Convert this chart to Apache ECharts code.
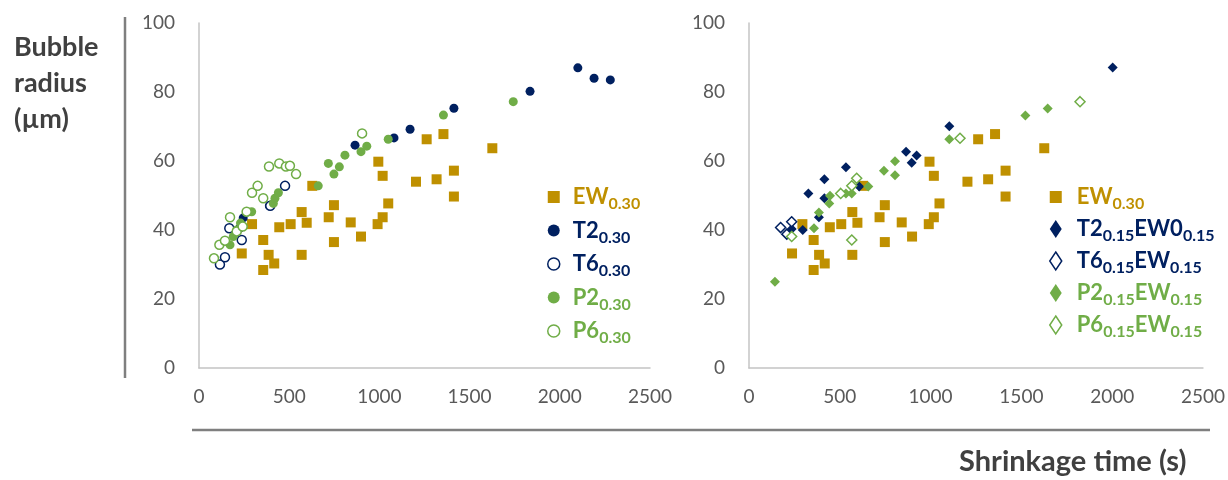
<!DOCTYPE html>
<html>
<head>
<meta charset="utf-8">
<script src="https://cdn.jsdelivr.net/npm/echarts@6/dist/echarts.min.js"></script>
<style>
  html, body { margin: 0; padding: 0; background: #ffffff; }
  #chart { width: 1228px; height: 480px; }
</style>
</head>
<body>
<div id="chart"></div>
<script>
// Bubble radius (µm) against shrinkage time (s), two panels side by side.

const xTicks = [0, 500, 1000, 1500, 2000, 2500];
const yTicks = [0, 20, 40, 60, 80, 100];

// Series names: main text and subscripts separated by '|'
const namesLeft = ['EW|0.30', 'T2|0.30', 'T6|0.30', 'P2|0.30', 'P6|0.30'];
const namesRight = ['EW|0.30', 'T2|0.15|EW0|0.15', 'T6|0.15|EW|0.15', 'P2|0.15|EW|0.15', 'P6|0.15|EW|0.15'];

// [shrinkage time s, bubble radius µm]
const ew030 = [
  [237, 33.2], [294, 41.7], [356, 37.1], [356, 28.4], [386, 32.8], [417, 30.3],
  [445, 40.8], [508, 41.7], [569, 45.2], [569, 32.8], [597, 42.1], [628, 52.8],
  [719, 43.7], [748, 47.2], [748, 36.5], [841, 42.2], [898, 38.1], [990, 41.7],
  [994, 59.8], [1018, 55.7], [1018, 43.7], [1049, 47.7], [1203, 54.0], [1262, 66.3],
  [1317, 54.7], [1355, 67.8], [1413, 57.2], [1413, 49.7], [1626, 63.7]
];
const t2030 = [
  [225, 40.5], [245, 43.5], [390, 47.0], [865, 64.6], [1081, 66.7], [1170, 69.2],
  [1413, 75.3], [1835, 80.2], [2100, 87.0], [2190, 84.0], [2280, 83.5]
];
const t6030 = [
  [116, 30.0], [144, 32.1], [168, 40.5], [237, 37.1], [395, 47.0], [477, 52.8]
];
const p2030 = [
  [172, 35.7], [190, 38.1], [209, 40.0], [230, 42.0], [292, 45.3], [412, 47.7],
  [421, 49.2], [440, 50.8], [661, 52.8], [748, 56.2], [778, 58.3], [717, 59.3],
  [809, 61.7], [898, 62.7], [930, 64.3], [1049, 66.3], [1355, 73.3], [1742, 77.2]
];
const p6030 = [
  [83, 31.8], [113, 35.7], [144, 36.9], [172, 43.7], [209, 39.6], [242, 41.0],
  [264, 45.3], [294, 50.8], [325, 52.8], [356, 49.2], [388, 58.4], [445, 59.3],
  [482, 58.4], [504, 58.6], [538, 56.2], [904, 68.0]
];
const t2ew015 = [
  [235, 40.3], [296, 40.0], [327, 50.6], [385, 43.7], [415, 49.2], [415, 54.7],
  [534, 58.2], [607, 52.6], [865, 62.7], [896, 59.5], [923, 61.6], [1103, 70.1], [2003, 87.1]
];
const t6ew015 = [
  [174, 40.7], [208, 38.8], [235, 42.4]
];
const p2ew015 = [
  [143, 25.0], [358, 40.5], [385, 45.1], [442, 47.7], [446, 49.9], [534, 50.6],
  [566, 50.6], [657, 52.6], [743, 57.2], [804, 55.9], [804, 59.9], [1103, 66.3],
  [1522, 73.2], [1645, 75.2]
];
const p6ew015 = [
  [235, 38.1], [505, 50.6], [566, 52.8], [566, 37.1], [593, 55.0], [1162, 66.6], [1823, 77.2]
];

const GOLD = '#BF9000';
const NAVY = '#002060';
const GREEN = '#70AD47';
const FONT = 'Lato';

function filled(color) { return { color: color, opacity: 1 }; }
function hollow(color) { return { color: '#ffffff', borderColor: color, borderWidth: 1.5, opacity: 1 }; }

function scatter(name, data, panel, symbol, size, itemStyle) {
  return {
    type: 'scatter', name: name, data: data,
    xAxisIndex: panel, yAxisIndex: panel,
    symbol: symbol, symbolSize: size,
    itemStyle: itemStyle,
    emphasis: { disabled: true },
    z: 2
  };
}

function richFor(color, lead) {
  return {
    a: { fontFamily: FONT, fontSize: 22, fontWeight: 'bold', color: color, lineHeight: 30, padding: [0, 0, 0, lead] },
    m: { fontFamily: FONT, fontSize: 22, fontWeight: 'bold', color: color, lineHeight: 30 },
    s: { fontFamily: FONT, fontSize: 16, fontWeight: 'bold', color: color, verticalAlign: 'bottom' }
  };
}

function legendLabel(name) {
  return name.split('|').map(function (p, i) {
    if (i === 0) return '{a|' + p + '}';
    return (i % 2 === 1 ? '{s|' : '{m|') + p + '}';
  }).join('');
}

function legendItems(names, colors, styles, lead, icons) {
  return names.map(function (n, i) {
    const item = { name: n, textStyle: { color: colors[i], rich: richFor(colors[i], lead) } };
    if (styles[i]) item.itemStyle = styles[i];
    if (icons && icons[i]) item.icon = icons[i];
    return item;
  });
}

const axisLabel = {
  fontFamily: FONT, fontSize: 19, color: '#595959',
  formatter: function (v) { return String(v); }
};
const axisLine = { show: true, lineStyle: { color: '#c4c4c4', width: 1.5 } };

function xAxis(idx) {
  return {
    type: 'value', gridIndex: idx, min: xTicks[0], max: xTicks[xTicks.length - 1],
    interval: xTicks[1] - xTicks[0],
    axisLine: axisLine, axisTick: { show: false }, splitLine: { show: false },
    axisLabel: Object.assign({ margin: 19 }, axisLabel)
  };
}
function yAxis(idx) {
  return {
    type: 'value', gridIndex: idx, min: yTicks[0], max: yTicks[yTicks.length - 1],
    interval: yTicks[1] - yTicks[0],
    axisLine: axisLine, axisTick: { show: false }, splitLine: { show: false },
    axisLabel: Object.assign({ margin: 24 }, axisLabel)
  };
}

const colorsLeft = [GOLD, NAVY, NAVY, GREEN, GREEN];
const colorsRight = [GOLD, NAVY, NAVY, GREEN, GREEN];

const option = {
  animation: false,
  backgroundColor: '#ffffff',
  textStyle: { fontFamily: FONT },
  grid: [
    { left: 199, right: 578, top: 23, bottom: 112 },
    { left: 749, right: 25, top: 23, bottom: 112 }
  ],
  xAxis: [xAxis(0), xAxis(1)],
  yAxis: [yAxis(0), yAxis(1)],
  legend: [
    {
      orient: 'vertical', left: 547, top: 186, padding: 0, itemGap: 7.5,
      itemWidth: 12, itemHeight: 12, selectedMode: false,
      formatter: legendLabel,
      data: legendItems(namesLeft, colorsLeft,
        [null, null, { borderWidth: 1.5 }, null, { borderWidth: 1.5 }], 8)
    },
    {
      orient: 'vertical', left: 1049, top: 186, padding: 0, itemGap: 6,
      itemWidth: 12, itemHeight: 18, selectedMode: false,
      formatter: legendLabel,
      data: legendItems(namesRight, colorsRight,
        [null, null, { borderWidth: 1.5 }, null, { borderWidth: 1.5 }], 10,
        ['path://M0,0M12,18M0,3L12,3L12,15L0,15Z'])
    }
  ],
  series: [
    scatter(namesLeft[0], ew030, 0, 'rect', 10, filled(GOLD)),
    scatter(namesLeft[1], t2030, 0, 'circle', 9, filled(NAVY)),
    scatter(namesLeft[2], t6030, 0, 'circle', 9, hollow(NAVY)),
    scatter(namesLeft[3], p2030, 0, 'circle', 9, filled(GREEN)),
    scatter(namesLeft[4], p6030, 0, 'circle', 9, hollow(GREEN)),
    scatter(namesRight[0], ew030, 1, 'rect', 10, filled(GOLD)),
    scatter(namesRight[1], t2ew015, 1, 'diamond', 10, filled(NAVY)),
    scatter(namesRight[2], t6ew015, 1, 'diamond', 10, hollow(NAVY)),
    scatter(namesRight[3], p2ew015, 1, 'diamond', 10, filled(GREEN)),
    scatter(namesRight[4], p6ew015, 1, 'diamond', 10, hollow(GREEN))
  ],
  graphic: [
    { type: 'line', silent: true, shape: { x1: 125, y1: 17, x2: 125, y2: 378 },
      style: { stroke: '#7f7f7f', lineWidth: 2.5 } },
    { type: 'line', silent: true, shape: { x1: 192, y1: 430, x2: 1210, y2: 430 },
      style: { stroke: '#7f7f7f', lineWidth: 2.5 } },
    { type: 'text', silent: true, left: 14, top: 29,
      style: { text: 'Bubble\nradius\n(µm)', font: 'bold 27px Lato', fill: '#404040', lineHeight: 36 } },
    { type: 'text', silent: true, left: 959, top: 447,
      style: { text: 'Shrinkage time (s)', font: 'bold 29px Lato', fill: '#404040' } }
  ]
};

echarts.init(document.getElementById('chart'), null, { renderer: 'canvas' }).setOption(option);
</script>
</body>
</html>
